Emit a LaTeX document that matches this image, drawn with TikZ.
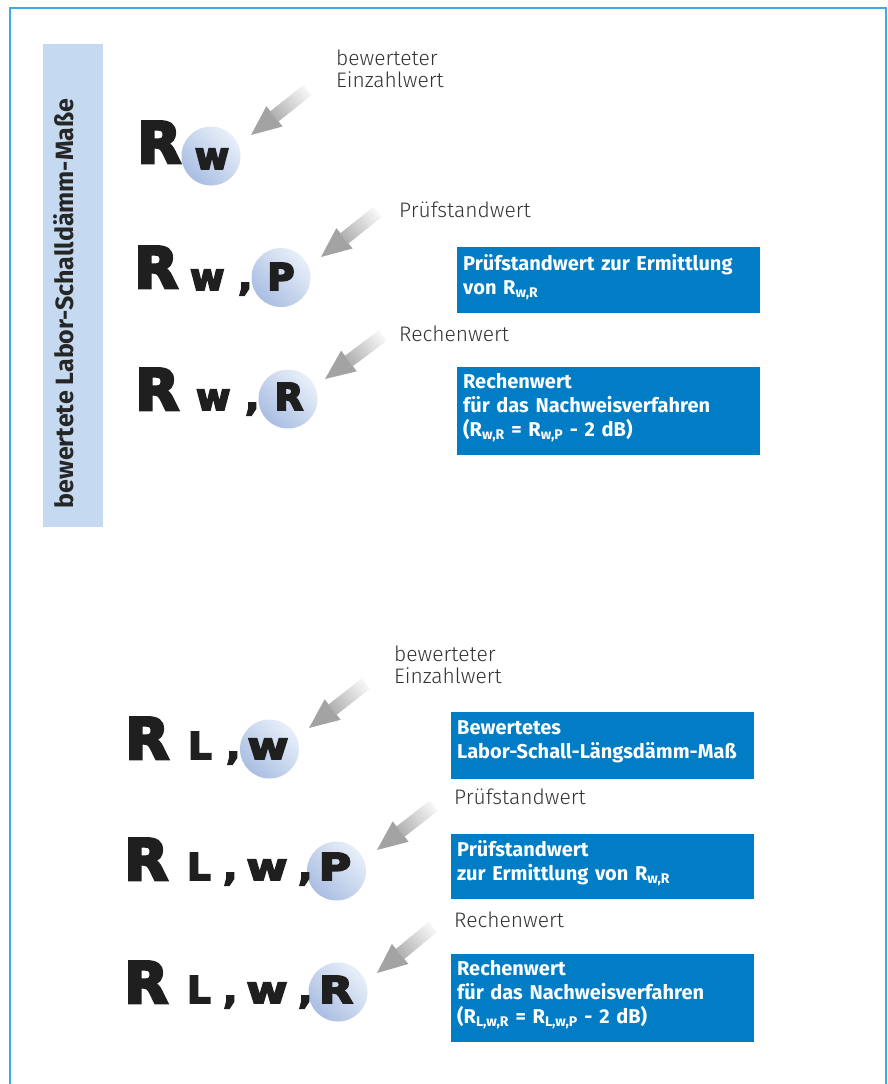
\documentclass[tikz,border=0pt]{standalone}
\usepackage{fontspec}
\setmainfont{Fira Sans}
\newfontfamily\labelfont{Fira Sans Light}
\newfontfamily\heavyfont[FakeBold=5]{DejaVu Sans Bold}
\newfontfamily\heavywidefont[FakeBold=5, FakeStretch=1.2]{DejaVu Sans Bold}
\usepackage{xcolor}
\usetikzlibrary{positioning}
\definecolor{frameblue}{HTML}{3FA9E6}
\definecolor{barblue}{HTML}{C5DAF0}
\definecolor{boxblue}{HTML}{007DC5}
\definecolor{labelgray}{HTML}{333333}
\definecolor{ballhi}{HTML}{E8EFF9}
\definecolor{balllo}{HTML}{A9BEE2}

\begin{document}
\begin{tikzpicture}[x=1pt, y=-1pt,
  mainletter/.style={font=\heavyfont\fontsize{57}{57}\selectfont, inner sep=0pt, anchor=base west, text=black!88},
  subletter/.style={font=\heavyfont\fontsize{37}{37}\selectfont, inner sep=0pt, anchor=base west, text=black!88},
  subwide/.style={font=\heavywidefont\fontsize{37}{37}\selectfont, inner sep=0pt, anchor=base, text=black!88},
  ball/.style={circle, minimum size=59pt, inner sep=0pt, top color=ballhi, bottom color=balllo, shading angle=-45},
  lbl/.style={font=\labelfont\fontsize{21}{22}\selectfont, text=labelgray, align=left, anchor=west, inner sep=0pt},
  infobox/.style={fill=boxblue, text=white, anchor=north west, minimum width=303pt, text width=291pt,
    inner xsep=6pt, inner ysep=0pt, align=left, font=\bfseries\fontsize{20}{24}\selectfont,
    execute at end node={\rule[-12pt]{0pt}{0pt}}},
  grayarrow/.pic={
    \fill[black!36] (0,0) -- (30,13) -- (30,-13) -- cycle;
    \foreach \i in {0,...,20} {
      \pgfmathsetmacro\lvl{30-1.3*\i}
      \fill[black!\lvl] (29.6+2*\i,-6.5) rectangle (32.2+2*\i,6.5);
    }
  }
]
\useasboundingbox (0,0) rectangle (888,1084);

% frame and side bar
\draw[frameblue, line width=2pt] (10,1084) -- (10,8) -- (886,8) -- (886,1084);
\node[fill=barblue, minimum width=60pt, minimum height=483pt, inner sep=0pt, anchor=north west] (sidebar) at (43,44) {};
\node[rotate=90, anchor=base, font=\bfseries\fontsize{25}{25}\selectfont, text=black!85, inner sep=0pt] (sidetext) at (73.5,303.5) {bewertete Labor-Schalldämm-Maße};

% upper group: R_w
\node[ball] (ball1) at (211,156) {};
\node[mainletter] (r1) at (137,163) {R};
\node[subletter, anchor=base] (w1) at (212,169) {w};
\coordinate (tip1) at (251,135);
\pic[rotate=38.5] at (tip1) {grayarrow};
\node[lbl] (lab1) at (336,69) {bewerteter\\Einzahlwert};

% R_w,P
\node[ball] (ball2) at (281,277.5) {};
\node[mainletter] (r2) at (134,288) {R};
\node[subletter] (w2) at (190,290) {w};
\node[subletter] (c2) at (238,290) {,};
\node[subletter, anchor=base] (p2) at (281,290) {P};
\coordinate (tip2) at (321,257);
\pic[rotate=38.5] at (tip2) {grayarrow};
\node[lbl] (lab2) at (399,210) {Prüfstandwert};
\node[infobox, minimum height=66pt] (box1) at (457,247) {Prüfstandwert zur Ermittlung\\von R\textsubscript{w,R}};

% R_w,R
\node[ball] (ball3) at (288,399) {};
\node[mainletter] (r3) at (135,410) {R};
\node[subletter] (w3) at (196,410) {w};
\node[subletter] (c3) at (245,410) {,};
\node[subletter, anchor=base] (rr3) at (289,410) {R};
\coordinate (tip3) at (325,379);
\pic[rotate=37] at (tip3) {grayarrow};
\node[lbl] (lab3) at (399,334) {Rechenwert};
\node[infobox, minimum height=88pt] (box2) at (457,367) {Rechenwert\\für das Nachweisverfahren\\(R\textsubscript{w,R} = R\textsubscript{w,P} - 2 dB)};

% lower group: R_L,w
\node[ball] (ball4) at (269.5,749) {};
\node[mainletter] (r4) at (125,759) {R};
\node[subletter] (l4) at (188,759) {L};
\node[subletter] (c4) at (226,759) {,};
\node[subwide] (w4) at (268,759) {w};
\coordinate (tip4) at (309,728);
\pic[rotate=38] at (tip4) {grayarrow};
\node[lbl] (lab4) at (394,665) {bewerteter\\Einzahlwert};
\node[infobox, minimum height=67pt] (box3) at (451,712) {Bewertetes\\Labor-Schall-Längsdämm-Maß};

% R_L,w,P
\node[ball] (ball5) at (336.5,871) {};
\node[mainletter] (r5) at (124,880) {R};
\node[subletter] (l5) at (187,880) {L};
\node[subletter] (c5a) at (223,880) {,};
\node[subwide] (w5) at (267,880) {w};
\node[subletter] (c5b) at (298,880) {,};
\node[subwide] (p5) at (335,880) {P};
\coordinate (tip5) at (377,850);
\pic[rotate=38] at (tip5) {grayarrow};
\node[lbl] (lab5) at (454,797) {Prüfstandwert};
\node[infobox, minimum height=65pt] (box4) at (451,834) {Prüfstandwert\\zur Ermittlung von R\textsubscript{w,R}};

% R_L,w,R
\node[ball] (ball6) at (338,992) {};
\node[mainletter] (r6) at (124,1003) {R};
\node[subletter] (l6) at (187,1003) {L};
\node[subletter] (c6a) at (223,1003) {,};
\node[subwide] (w6) at (267,1003) {w};
\node[subletter] (c6b) at (298,1003) {,};
\node[subwide] (rr6) at (336,1003) {R};
\coordinate (tip6) at (377,973);
\pic[rotate=39.5] at (tip6) {grayarrow};
\node[lbl] (lab6) at (454,920) {Rechenwert};
\node[infobox, minimum height=88pt] (box5) at (451,954) {Rechenwert\\für das Nachweisverfahren\\(R\textsubscript{L,w,R} = R\textsubscript{L,w,P} - 2 dB)};
\end{tikzpicture}
\end{document}
